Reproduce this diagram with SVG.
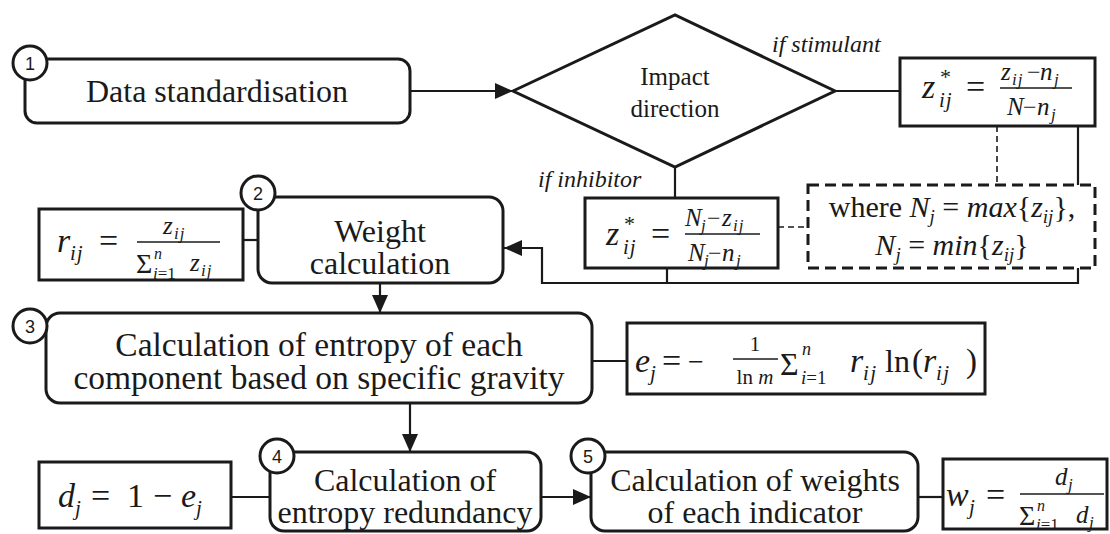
<svg xmlns="http://www.w3.org/2000/svg" width="1110" height="534" viewBox="0 0 1110 534">
<style>
.node{fill:#fff;stroke:#1a1a1a;stroke-width:3}
.box{fill:#fff;stroke:#1a1a1a;stroke-width:3}
.dbox{fill:#fff;stroke:#1a1a1a;stroke-width:3;stroke-dasharray:11 6}
.num{fill:#fff;stroke:#1a1a1a;stroke-width:3}
.numt{font-family:"Liberation Sans",Arial,sans-serif;font-size:18px;fill:#1a1a1a;text-anchor:middle}
.t{font-family:"Liberation Serif","Times New Roman",serif;font-size:32px;fill:#1a1a1a;text-anchor:middle}
.lab{font-family:"Liberation Serif","Times New Roman",serif;font-size:24px;font-style:italic;fill:#1a1a1a}
.u{font-family:"Liberation Serif","Times New Roman",serif;font-style:normal;fill:#1a1a1a}
.i{font-family:"Liberation Serif","Times New Roman",serif;font-style:italic;fill:#1a1a1a}
.c{fill:none;stroke:#1a1a1a;stroke-width:2.2}
.dc{fill:none;stroke:#1a1a1a;stroke-width:1.6;stroke-dasharray:6 4}
.bar{stroke:#1a1a1a;stroke-width:1.6}
</style>
<defs>
<marker id="ah" viewBox="0 0 18 16" refX="18" refY="8" markerWidth="18" markerHeight="16" orient="auto" markerUnits="userSpaceOnUse">
<path d="M0,0 L18,8 L0,16 Z" fill="#1a1a1a"/>
</marker>
</defs>

<g id="connectors">
<path class="c" d="M410,91 H513" marker-end="url(#ah)"/>
<path class="c" d="M835,91 H900"/>
<path class="c" d="M675,167 V198"/>
<path class="c" d="M1078,126 V283 H542 V248 H504" marker-end="url(#ah)"/>
<path class="c" d="M667,268 V283"/>
<path class="dc" d="M997,126 V185"/>
<path class="dc" d="M778,227 H808"/>
<path class="c" d="M243,240 H258"/>
<path class="c" d="M380,283 V313" marker-end="url(#ah)"/>
<path class="c" d="M592,361 H627"/>
<path class="c" d="M410,403 V452" marker-end="url(#ah)"/>
<path class="c" d="M231,497 H270"/>
<path class="c" d="M541,497 H591" marker-end="url(#ah)"/>
<path class="c" d="M918,497 H943"/>
</g>

<g id="node1">
<rect class="node" x="25" y="59" width="385" height="64" rx="12"/>
<circle class="num" cx="30" cy="63" r="17"/>
<text class="numt" x="30" y="69.500">1</text>
<text class="t" x="217" y="102">Data standardisation</text>
</g>

<g id="decision">
<polygon class="node" points="513,91 675,15 835,91 675,167"/>
<text class="t" x="675" y="85" style="font-size:25px">Impact</text>
<text class="t" x="675" y="117" style="font-size:25px">direction</text>
<text class="lab" x="772" y="52">if stimulant</text>
<text class="lab" x="538" y="187">if inhibitor</text>
</g>

<g id="stimulant">
<rect class="box" x="900" y="58" width="195" height="68"/>
<text class="i" x="922" y="98" font-size="34">z</text>
<text class="u" x="940" y="84" font-size="22">*</text>
<text class="i" x="939" y="107" font-size="21" letter-spacing="1">ij</text>
<text class="u" x="966" y="98" font-size="34">=</text>
<line class="bar" x1="1000" y1="88" x2="1072" y2="88"/>
<text class="i" x="1001" y="80" font-size="25">z</text>
<text class="i" x="1012" y="85" font-size="17" letter-spacing="1">ij</text>
<text class="u" x="1027" y="80" font-size="24">−</text>
<text class="i" x="1040" y="80" font-size="25">n</text>
<text class="i" x="1054" y="85" font-size="17">j</text>
<text class="i" x="1007" y="115" font-size="25">N</text>
<text class="u" x="1023" y="115" font-size="24">−</text>
<text class="i" x="1037" y="115" font-size="25">n</text>
<text class="i" x="1051" y="120" font-size="17">j</text>
</g>

<g id="inhibitor">
<rect class="box" x="585" y="198" width="193" height="70"/>
<text class="i" x="606" y="245" font-size="34">z</text>
<text class="u" x="624" y="231" font-size="22">*</text>
<text class="i" x="623" y="254" font-size="21" letter-spacing="1">ij</text>
<text class="u" x="651" y="245" font-size="34">=</text>
<line class="bar" x1="685" y1="234" x2="760" y2="234"/>
<text class="i" x="685" y="226" font-size="25">N</text>
<text class="i" x="701" y="231" font-size="17">j</text>
<text class="u" x="707" y="226" font-size="24">−</text>
<text class="i" x="722" y="226" font-size="25">z</text>
<text class="i" x="733" y="231" font-size="17" letter-spacing="1">ij</text>
<text class="i" x="688" y="261" font-size="25">N</text>
<text class="i" x="704" y="266" font-size="17">j</text>
<text class="u" x="708" y="261" font-size="24">−</text>
<text class="i" x="722" y="261" font-size="25">n</text>
<text class="i" x="736" y="266" font-size="17">j</text>
</g>

<g id="where">
<rect class="dbox" x="808" y="185" width="287" height="83"/>
<text class="u" x="952" y="217" text-anchor="middle" font-size="30">where <tspan class="i">N</tspan><tspan class="i" font-size="19" dy="6">j</tspan><tspan dy="-6"> = </tspan><tspan class="i">max</tspan>{<tspan class="i">z</tspan><tspan class="i" font-size="19" dy="6">ij</tspan><tspan dy="-6">},</tspan></text>
<text class="u" x="952" y="255" text-anchor="middle" font-size="30"><tspan class="i">N</tspan><tspan class="i" font-size="19" dy="6">j</tspan><tspan dy="-6"> = </tspan><tspan class="i">min</tspan>{<tspan class="i">z</tspan><tspan class="i" font-size="19" dy="6">ij</tspan><tspan dy="-6">}</tspan></text>
</g>

<g id="node2">
<rect class="node" x="258" y="197" width="245" height="86" rx="14"/>
<circle class="num" cx="258" cy="193" r="17"/>
<text class="numt" x="258" y="199.500">2</text>
<text class="t" x="380" y="242">Weight</text>
<text class="t" x="380" y="274">calculation</text>
</g>

<g id="rformula">
<rect class="box" x="39" y="209" width="204" height="71"/>
<text class="i" x="57" y="252" font-size="34">r</text>
<text class="i" x="70" y="260" font-size="21" letter-spacing="1">ij</text>
<text class="u" x="99" y="252" font-size="34">=</text>
<line class="bar" x1="137" y1="242" x2="220" y2="242"/>
<text class="i" x="163" y="234" font-size="25">z</text>
<text class="i" x="174" y="239" font-size="17" letter-spacing="1">ij</text>
<text class="u" x="136" y="273" font-size="28">Σ</text>
<text class="i" x="154" y="259" font-size="16">n</text>
<text class="i" x="153" y="279" font-size="17">i<tspan class="u">=1</tspan></text>
<text class="i" x="190" y="271" font-size="25">z</text>
<text class="i" x="201" y="276" font-size="17" letter-spacing="1">ij</text>
</g>

<g id="node3">
<rect class="node" x="46" y="313" width="546" height="90" rx="14"/>
<circle class="num" cx="30" cy="326" r="17"/>
<text class="numt" x="30" y="332.500">3</text>
<text class="t" x="319" y="356" style="font-size:33.500px">Calculation of entropy of each</text>
<text class="t" x="319" y="389" style="font-size:33.500px">component based on specific gravity</text>
</g>

<g id="eformula">
<rect class="box" x="627" y="323" width="358" height="71"/>
<text class="i" x="635" y="372" font-size="34">e</text>
<text class="i" x="650" y="380" font-size="21">j</text>
<text class="u" x="662" y="372" font-size="34">=</text>
<text class="u" x="688" y="371" font-size="28">−</text>
<text class="u" x="755" y="351" font-size="21" text-anchor="middle">1</text>
<line class="bar" x1="733" y1="359" x2="778" y2="359"/>
<text class="u" x="755" y="384" font-size="21" text-anchor="middle">ln <tspan class="i">m</tspan></text>
<text class="u" x="780" y="375" font-size="32">Σ</text>
<text class="i" x="802" y="355" font-size="18">n</text>
<text class="i" x="801" y="384" font-size="19">i<tspan class="u">=1</tspan></text>
<text class="i" x="850" y="372" font-size="34">r</text>
<text class="i" x="863" y="380" font-size="21" letter-spacing="1.500">ij</text>
<text class="u" x="885" y="372" font-size="32">ln</text>
<text class="u" x="912" y="372" font-size="33">(</text>
<text class="i" x="923" y="372" font-size="34">r</text>
<text class="i" x="936" y="380" font-size="21" letter-spacing="1.500">ij</text>
<text class="u" x="966" y="372" font-size="33">)</text>
</g>

<g id="node4">
<rect class="node" x="270" y="452" width="271" height="79" rx="14"/>
<circle class="num" cx="277" cy="456" r="17"/>
<text class="numt" x="277" y="462.500">4</text>
<text class="t" x="405" y="491">Calculation of</text>
<text class="t" x="405" y="523">entropy redundancy</text>
</g>

<g id="dformula">
<rect class="box" x="39" y="462" width="192" height="66"/>
<text class="i" x="58" y="507" font-size="34">d</text>
<text class="i" x="75" y="515" font-size="21">j</text>
<text class="u" x="91" y="507" font-size="34">=</text>
<text class="u" x="127" y="507" font-size="34">1</text>
<text class="u" x="153" y="507" font-size="34">−</text>
<text class="i" x="181" y="507" font-size="34">e</text>
<text class="i" x="196" y="515" font-size="21">j</text>
</g>

<g id="node5">
<rect class="node" x="591" y="452" width="327" height="79" rx="14"/>
<circle class="num" cx="588" cy="456" r="17"/>
<text class="numt" x="588" y="462.500">5</text>
<text class="t" x="755" y="491">Calculation of weights</text>
<text class="t" x="755" y="523">of each indicator</text>
</g>

<g id="wformula">
<rect class="box" x="943" y="459" width="164" height="70"/>
<text class="i" x="946" y="506" font-size="34">w</text>
<text class="i" x="969" y="514" font-size="21">j</text>
<text class="u" x="986" y="506" font-size="34">=</text>
<line class="bar" x1="1020" y1="494" x2="1104" y2="494"/>
<text class="i" x="1055" y="485" font-size="25">d</text>
<text class="i" x="1068" y="490" font-size="17">j</text>
<text class="u" x="1019" y="525" font-size="28">Σ</text>
<text class="i" x="1037" y="511" font-size="16">n</text>
<text class="i" x="1036" y="530" font-size="17">i<tspan class="u">=1</tspan></text>
<text class="i" x="1076" y="523" font-size="25">d</text>
<text class="i" x="1089" y="528" font-size="17">j</text>
</g>
</svg>
